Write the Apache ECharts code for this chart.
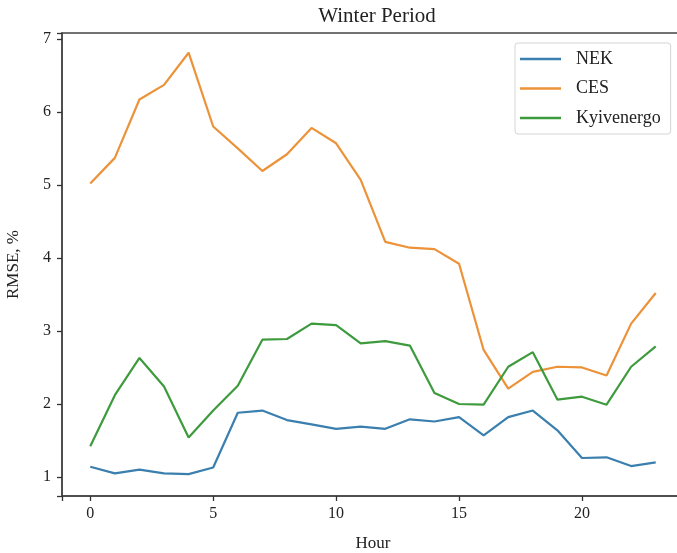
<!DOCTYPE html>
<html>
<head>
<meta charset="utf-8">
<script src="https://cdn.jsdelivr.net/npm/echarts@6/dist/echarts.min.js"></script>
<style>html,body{margin:0;padding:0;background:#fff;}#c{width:677px;height:553px;}</style>
</head>
<body>
<div id="c"></div>
<script>
const hours = [0,1,2,3,4,5,6,7,8,9,10,11,12,13,14,15,16,17,18,19,20,21,22,23];
const nek = [1.14,1.05,1.10,1.05,1.04,1.13,1.88,1.91,1.78,1.72,1.66,1.69,1.66,1.79,1.76,1.82,1.57,1.82,1.91,1.64,1.26,1.27,1.15,1.20];
const ces = [5.02,5.37,6.17,6.37,6.81,5.80,5.50,5.19,5.42,5.78,5.57,5.07,4.22,4.14,4.12,3.92,2.74,2.21,2.44,2.51,2.50,2.39,3.10,3.52];
const kyiv = [1.42,2.12,2.63,2.24,1.54,1.91,2.25,2.88,2.89,3.10,3.08,2.83,2.86,2.80,2.15,2.00,1.99,2.51,2.71,2.06,2.10,1.99,2.51,2.79];
const xTicks = [0,5,10,15,20];
const yTicks = [1,2,3,4,5,6,7];
const seriesNames = ['NEK','CES','Kyivenergo'];
const colors = ['#3a7fae','#ec9238','#3d9b3d'];

const font = 'Liberation Serif';
const chart = echarts.init(document.getElementById('c'));
function pairs(arr){ return hours.map((h,i)=>[h,arr[i]]); }
chart.setOption({
  animation:false,
  backgroundColor:'#fff',
  title:{text:'Winter Period', left:372, textAlign:'center', top:1,
    textStyle:{fontFamily:font, fontSize:21, fontWeight:'normal', color:'#222'}},
  grid:{left:62, top:33, right:-7, bottom:57, outerBoundsMode:'none', containLabel:false,
    show:true, borderColor:'#444', borderWidth:1.5, backgroundColor:'transparent'},
  legend:{
    orient:'vertical', left:515, top:43, data:seriesNames,
    icon:'rect', itemWidth:41, itemHeight:2.5, itemGap:11.5,
    padding:[7,10,7,5],
    borderColor:'#d4d4d4', borderWidth:1, borderRadius:3,
    textStyle:{fontFamily:font, fontSize:18, lineHeight:16, color:'#222', padding:[0,0,0,10]}
  },
  xAxis:{
    type:'value', min:-1.15, max:24.15,
    name:'Hour', nameLocation:'middle', nameGap:39,
    nameTextStyle:{fontFamily:font, fontSize:17, color:'#222'},
    axisLine:{show:true, onZero:false, lineStyle:{color:'#444', width:1.5}},
    axisTick:{show:true, inside:false, length:5, lineStyle:{color:'#333', width:1.3}},
    axisLabel:{show:true, customValues:xTicks, margin:10, fontFamily:font, fontSize:16, color:'#222'},
    splitLine:{show:false}
  },
  yAxis:{
    type:'value', min:0.74, max:7.08, splitNumber:6,
    name:'RMSE, %', nameLocation:'middle', nameGap:40,
    nameTextStyle:{fontFamily:font, fontSize:17, color:'#222'},
    axisLine:{show:true, onZero:false, lineStyle:{color:'#444', width:1.5}},
    axisTick:{show:true, inside:false, length:5, lineStyle:{color:'#333', width:1.3}},
    axisLabel:{show:true, customValues:yTicks, margin:11, fontFamily:font, fontSize:16, color:'#222'},
    splitLine:{show:false}
  },
  series:[
    {name:seriesNames[0], type:'line', data:pairs(nek), symbol:'none', color:colors[0], lineStyle:{width:2.2}},
    {name:seriesNames[1], type:'line', data:pairs(ces), symbol:'none', color:colors[1], lineStyle:{width:2.2}},
    {name:seriesNames[2], type:'line', data:pairs(kyiv), symbol:'none', color:colors[2], lineStyle:{width:2.2}}
  ]
});
</script>
</body>
</html>
